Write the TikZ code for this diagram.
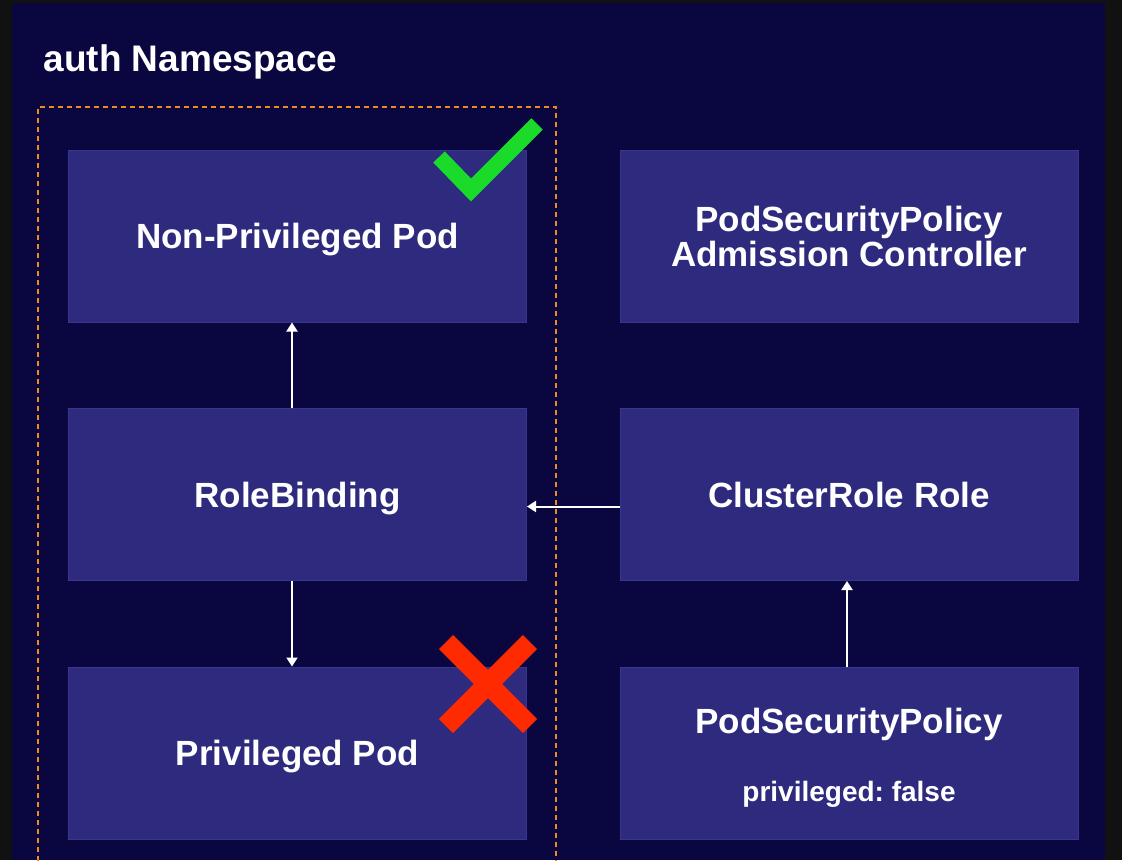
\documentclass[tikz,border=0pt]{standalone}
\usepackage{fontspec}
\setmainfont{Liberation Sans}
\usepackage{tikz}
\usetikzlibrary{arrows.meta}
\definecolor{frame}{HTML}{111111}
\definecolor{navy}{HTML}{0A0640}
\definecolor{boxfill}{HTML}{2E2A7E}
\definecolor{boxline}{HTML}{3A3690}
\definecolor{nsline}{HTML}{F08A1E}
\definecolor{okgreen}{HTML}{1ADB2A}
\definecolor{badred}{HTML}{FF2A00}
\frenchspacing

\begin{document}
\begin{tikzpicture}[x=1pt,y=-1pt,
  obj/.style={rectangle, draw=boxline, fill=boxfill, line width=1pt,
    minimum width=458pt, minimum height=172pt, text=white, align=center,
    font=\fontsize{35}{38}\selectfont\bfseries},
  link/.style={draw=white, line width=2pt, -{Triangle[width=11pt,length=9pt]}}]
\useasboundingbox (0,0) rectangle (1122,860);
\fill[frame] (0,0) rectangle (1122,860);
\fill[navy] (12,3) rectangle (1105,860);

\node[anchor=west, text=white, font=\fontsize{37}{40}\selectfont\bfseries](title) at (40,62) {auth Namespace};

\draw[nsline, line width=2pt, dash pattern=on 5pt off 4pt] (38,870) -- (38,107) -- (556,107) -- (556,870);

\node[obj, text depth=0pt](nonpriv) at (297.5,236) {Non-Privileged Pod};
\node[obj, text depth=0pt](rb) at (297.5,494.5) {RoleBinding};
\node[obj, text depth=0pt](priv) at (297.5,753) {Privileged Pod};

\node[obj](adm) at (849,236) {PodSecurityPolicy\\[-3pt]Admission Controller};
\node[obj, text depth=0pt](cr) at (849,494.5) {ClusterRole Role};
\node[obj](psp) at (849,753) {\rule{0pt}{34pt}PodSecurityPolicy\\[30pt]{\fontsize{28}{30}\selectfont privileged: false}};

\draw[link] ([xshift=-5.5pt]rb.north) -- ([xshift=-5.5pt]nonpriv.south);
\draw[link] ([xshift=-5.5pt]rb.south) -- ([xshift=-5.5pt]priv.north);
\draw[link] ([yshift=-12pt]cr.west) -- ([yshift=-12pt]rb.east);
\draw[link] ([xshift=-2pt]psp.north) -- ([xshift=-2pt]cr.south);

\draw[okgreen, line width=16pt] (439,157) -- (471,190) -- (537,124);
\draw[badred, line width=20pt] (446,642) -- (530,726);
\draw[badred, line width=20pt] (530,642) -- (446,726);
\end{tikzpicture}
\end{document}
